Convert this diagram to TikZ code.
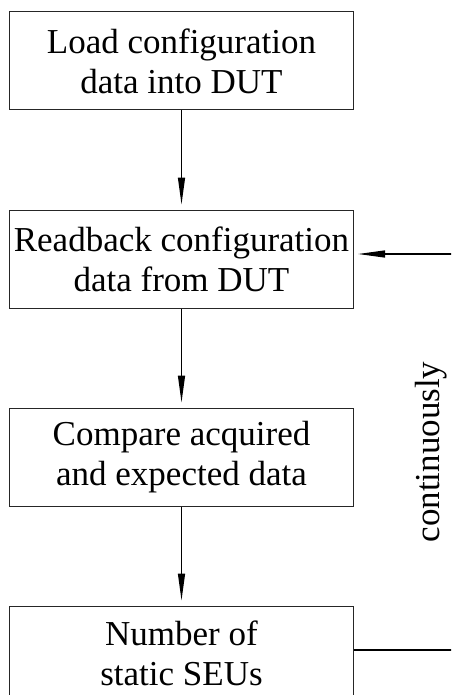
\documentclass[tikz,border=0pt]{standalone}
\usepackage{fontspec}
\setmainfont{Liberation Serif}
\usetikzlibrary{positioning,arrows.meta}
\tikzstyle{stepBox} = [draw, line width=1pt, color=black!85, text=black, minimum width=344pt, minimum height=98pt, inner sep=0pt, align=center, font=\fontsize{35}{40}\selectfont]
\tikzstyle{flowArrow} = [-{Triangle[length=27pt, width=7pt]}, line width=1.3pt, shorten >=5pt]
\tikzstyle{loopLine} = [line width=1.3pt]
\tikzstyle{sideText} = [rotate=90, font=\fontsize{35}{40}\selectfont]

\begin{document}
\begin{tikzpicture}[x = 1pt, y = -1pt]
  \useasboundingbox (0,0) rectangle (451,695);
  \clip (0,0) rectangle (451,695);

  % the four steps
  \node [stepBox] (load) at (181.5,61) {Load configuration\\data into DUT};
  \node [stepBox, below = 99pt of load] (readback) {Readback configuration\\data from DUT};
  \node [stepBox, below = 99pt of readback] (compare) {Compare acquired\\and expected data};
  \node [stepBox, minimum height=94pt, below = 99pt of compare] (count) {Number of\\static SEUs};

  \draw [flowArrow] (load) -- (readback);
  \draw [flowArrow] (readback) -- (compare);
  \draw [flowArrow] (compare) -- (count);

  % loop back to the readback step
  \coordinate (loopCorner) at ([xshift=130pt, yshift=3pt]count.east);
  \draw [loopLine] ([yshift=3pt]count.east) -- (loopCorner);
  \draw [flowArrow, shorten >=4pt] (loopCorner) |- ([yshift=5pt]readback.east);
  \node [sideText] (loopText) at (431,452) {continuously};
\end{tikzpicture}
\end{document}
